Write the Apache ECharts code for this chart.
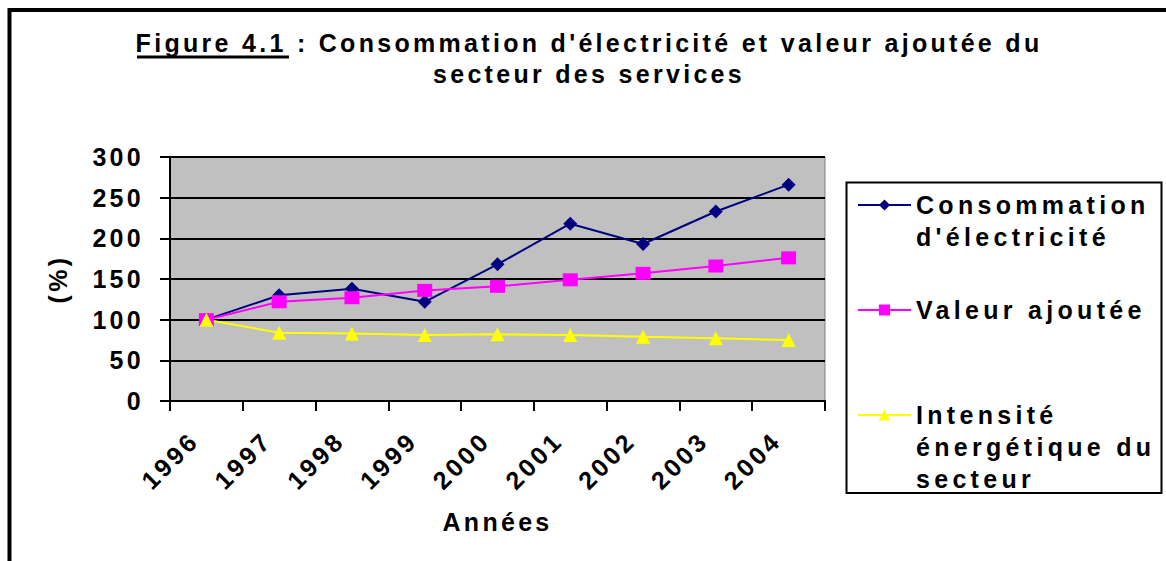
<!DOCTYPE html>
<html>
<head>
<meta charset="utf-8">
<script src="https://cdn.jsdelivr.net/npm/echarts@6/dist/echarts.min.js"></script>
<style>
  body { margin: 0; background: #fff; }
  #chart { width: 1166px; height: 561px; }
  /* Excel-style wide letter spacing */
  #chart text { letter-spacing: 3.3px; }
  #chart text[style*="Arial"] { letter-spacing: 4.3px; }
  #chart text[style*="Helvetica"] { letter-spacing: 3.3px; }
</style>
</head>
<body>
<div id="chart"></div>
<script>
const years = ['1996', '1997', '1998', '1999', '2000', '2001', '2002', '2003', '2004'];
const consommation = [100, 130, 138, 122, 168, 218, 193, 233, 266];
const valeurAjoutee = [100, 122, 127, 136, 141, 149, 157, 166, 176];
const intensite = [100, 84, 83, 81, 82, 81, 79, 77, 75];
const seriesNames = ["Consommation d'électricité", 'Valeur ajoutée', 'Intensité énergétique du secteur'];
// leading blank lines keep the icon on the first line of each legend entry
const legendLabels = ["\nConsommation\nd'électricité", 'Valeur ajoutée', '\n\nIntensité\nénergétique du\nsecteur'];
const titleText = "Figure 4.1 : Consommation d'électricité et valeur ajoutée du\nsecteur des services";

const chart = echarts.init(document.getElementById('chart'), null, { renderer: 'svg' });

const bold = { fontSize: 25, fontWeight: 'bold', color: '#000' };
const axisFont = Object.assign({ fontFamily: 'Liberation Sans, Helvetica' }, bold);

const legendBase = {
  orient: 'vertical',
  left: 857,
  padding: 0,
  itemWidth: 53,
  itemHeight: 14,
  selectedMode: false,
  formatter: name => legendLabels[seriesNames.indexOf(name)],
  textStyle: Object.assign({ fontFamily: 'Liberation Sans, Arial', lineHeight: 32 }, bold)
};

chart.setOption({
  animation: false,
  title: {
    text: titleText,
    left: 589,
    top: 27,
    padding: 0,
    textAlign: 'center',
    textStyle: Object.assign({ fontFamily: 'Liberation Sans', lineHeight: 31 }, bold)
  },
  legend: [
    Object.assign({ data: [seriesNames[0]], top: 157 }, legendBase),
    Object.assign({ data: [seriesNames[1]], top: 294 }, legendBase),
    Object.assign({ data: [seriesNames[2]], top: 335 }, legendBase)
  ],
  grid: {
    left: 170, right: 341, top: 157, bottom: 160,
    show: true,
    backgroundColor: '#C0C0C0',
    borderColor: '#808080',
    borderWidth: 1
  },
  xAxis: {
    type: 'category',
    data: years,
    boundaryGap: true,
    name: 'Années',
    nameLocation: 'middle',
    nameGap: 108,
    nameTextStyle: axisFont,
    axisLine: { lineStyle: { color: '#000', width: 2 } },
    axisTick: { show: true, length: 10, interval: 0, lineStyle: { color: '#000', width: 2 } },
    axisLabel: Object.assign({ rotate: 45, interval: 0, margin: 23, padding: [0, 17, 0, 0] }, axisFont),
    splitLine: { show: false }
  },
  yAxis: {
    type: 'value',
    min: 0,
    max: 300,
    interval: 50,
    name: '(%)',
    nameLocation: 'middle',
    nameGap: 100,
    nameTextStyle: axisFont,
    axisLine: { show: true, lineStyle: { color: '#000', width: 2 } },
    axisTick: { show: true, length: 10, lineStyle: { color: '#000', width: 2 } },
    axisLabel: Object.assign({ margin: 26 }, axisFont),
    splitLine: { show: true, lineStyle: { color: '#000', width: 2 } }
  },
  graphic: [
    { type: 'rect', shape: { x: 9.5, y: 10, width: 1400, height: 800 }, style: { fill: 'none', stroke: '#000', lineWidth: 4 } },
    { type: 'rect', shape: { x: 846.5, y: 182.5, width: 315, height: 310.5 }, style: { fill: 'none', stroke: '#000', lineWidth: 2 } },
    { type: 'line', shape: { x1: 137, y1: 57, x2: 289, y2: 57 }, style: { stroke: '#000', lineWidth: 3 } }
  ],
  series: [
    {
      name: seriesNames[0], type: 'line', data: consommation,
      symbol: 'diamond', symbolSize: 14,
      lineStyle: { color: '#000080', width: 2 },
      itemStyle: { color: '#000080' }
    },
    {
      name: seriesNames[1], type: 'line', data: valeurAjoutee,
      symbol: 'rect', symbolSize: [15, 13],
      lineStyle: { color: '#FF00FF', width: 2 },
      itemStyle: { color: '#FF00FF' }
    },
    {
      name: seriesNames[2], type: 'line', data: intensite,
      symbol: 'triangle', symbolSize: 14,
      lineStyle: { color: '#FFFF00', width: 2 },
      itemStyle: { color: '#FFFF00' }
    }
  ]
});
</script>
</body>
</html>
